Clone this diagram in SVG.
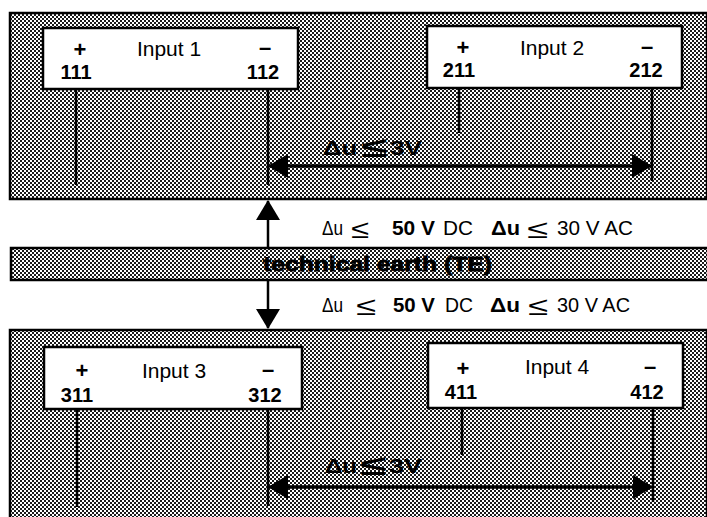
<svg xmlns="http://www.w3.org/2000/svg" width="707" height="517" viewBox="0 0 707 517">
<defs>
<pattern id="dither" width="4" height="4" patternUnits="userSpaceOnUse">
<rect width="4" height="4" fill="#ffffff"/>
<rect width="2" height="2" fill="#1a1a1a"/>
<rect x="2" y="2" width="2" height="2" fill="#1a1a1a"/>
</pattern>
<marker id="ah" viewBox="0 0 20 24" refX="19" refY="12" markerWidth="20" markerHeight="24" markerUnits="userSpaceOnUse" orient="auto">
<path d="M0,0 L20,12 L0,24 Z" fill="#000"/>
</marker>
</defs>
<style>
.panel{fill:url(#dither);stroke:#000;stroke-width:2.5}
.box{fill:#fff;stroke:#000;stroke-width:2.5}
.wire{stroke:#000;stroke-width:2.5;fill:none}
.dim{stroke:#000;stroke-width:3;fill:none}
.t{font-family:"Liberation Sans",Arial,sans-serif;fill:#000}
.name{font-size:21px}
.num{font-size:20px;font-weight:bold}
.sign{font-size:22px;font-weight:bold}
.lbl{font-size:20px;font-weight:bold}
.cond{font-family:"Liberation Sans Narrow","Liberation Sans",Arial,sans-serif;font-size:19.5px;fill:#000}
.b{font-weight:bold}
.le{font-size:26px}
.leb{font-size:28px;font-weight:bold}
</style>
<rect width="707" height="517" fill="#fff"/>

<g id="panel-top"><rect class="panel" x="10" y="13" width="697" height="186"/></g>
<g id="earth-bar">
<rect class="panel" x="11" y="248" width="697" height="32"/>
<text class="t" x="263" y="271" font-size="21" font-weight="900" stroke="#000" stroke-width="0.8" textLength="229" lengthAdjust="spacingAndGlyphs">technical earth (TE)</text>
</g>
<g id="panel-bottom"><rect class="panel" x="10" y="330" width="697" height="200"/></g>

<g id="input1">
<rect class="box" x="43" y="28" width="255" height="61"/>
<text class="t sign" x="80" y="57" text-anchor="middle">+</text>
<text class="t name" x="169" y="56" text-anchor="middle">Input 1</text>
<text class="t sign" x="265" y="55" text-anchor="middle">–</text>
<text class="t num" x="76" y="79" text-anchor="middle">111</text>
<text class="t num" x="263" y="79" text-anchor="middle">112</text>
</g>
<g id="input2">
<rect class="box" x="427" y="26" width="255" height="62"/>
<text class="t sign" x="463" y="55" text-anchor="middle">+</text>
<text class="t name" x="552" y="55" text-anchor="middle">Input 2</text>
<text class="t sign" x="647" y="54" text-anchor="middle">–</text>
<text class="t num" x="459" y="77" text-anchor="middle">211</text>
<text class="t num" x="646" y="77" text-anchor="middle">212</text>
</g>
<g id="input3">
<rect class="box" x="44" y="347" width="258" height="62"/>
<text class="t sign" x="82" y="378" text-anchor="middle">+</text>
<text class="t name" x="174" y="378" text-anchor="middle">Input 3</text>
<text class="t sign" x="268" y="377" text-anchor="middle">–</text>
<text class="t num" x="77" y="402" text-anchor="middle">311</text>
<text class="t num" x="265" y="402" text-anchor="middle">312</text>
</g>
<g id="input4">
<rect class="box" x="428" y="343" width="255" height="65"/>
<text class="t sign" x="463" y="376" text-anchor="middle">+</text>
<text class="t name" x="557" y="374" text-anchor="middle">Input 4</text>
<text class="t sign" x="650" y="374" text-anchor="middle">–</text>
<text class="t num" x="461" y="399" text-anchor="middle">411</text>
<text class="t num" x="647" y="399" text-anchor="middle">412</text>
</g>

<g id="connectors">
<line class="wire" x1="76" y1="89" x2="76" y2="185"/>
<line class="wire" x1="268" y1="89" x2="268" y2="185"/>
<line class="wire" x1="459" y1="88" x2="459" y2="133"/>
<line class="wire" x1="652" y1="88" x2="652" y2="181"/>
<line class="dim" x1="290" y1="166" x2="651" y2="166" marker-end="url(#ah)"/>
<line class="dim" x1="630" y1="166" x2="269" y2="166" marker-end="url(#ah)"/>

<line class="wire" x1="77" y1="409" x2="77" y2="507"/>
<line class="wire" x1="268" y1="409" x2="268" y2="506"/>
<line class="wire" x1="462" y1="408" x2="462" y2="455"/>
<line class="wire" x1="653" y1="408" x2="653" y2="502"/>
<line class="dim" x1="290" y1="487" x2="652" y2="487" marker-end="url(#ah)"/>
<line class="dim" x1="630" y1="487" x2="269" y2="487" marker-end="url(#ah)"/>

<line class="wire" x1="268" y1="248" x2="268" y2="201" marker-end="url(#ah)"/>
<line class="wire" x1="268" y1="280" x2="268" y2="328" marker-end="url(#ah)"/>
</g>

<g id="labels">
<g id="du3v-top">
<text class="t lbl" x="323" y="155" textLength="34" lengthAdjust="spacingAndGlyphs">Δu</text>
<text class="t leb" x="361" y="157" textLength="26" lengthAdjust="spacingAndGlyphs">≤</text>
<text class="t lbl" x="390" y="155" textLength="32" lengthAdjust="spacingAndGlyphs">3V</text>
</g>
<g id="du3v-bottom">
<text class="t lbl" x="325" y="473" textLength="32" lengthAdjust="spacingAndGlyphs">Δu</text>
<text class="t leb" x="360" y="475" textLength="26" lengthAdjust="spacingAndGlyphs">≤</text>
<text class="t lbl" x="389" y="473" textLength="33" lengthAdjust="spacingAndGlyphs">3V</text>
</g>
<g id="limits-top">
<text class="cond" x="322" y="235" textLength="21" lengthAdjust="spacingAndGlyphs">Δu</text>
<text class="cond le" x="351" y="238" textLength="18" lengthAdjust="spacingAndGlyphs">≤</text>
<text class="cond b" x="392" y="235" textLength="43" lengthAdjust="spacingAndGlyphs">50 V</text>
<text class="cond" x="443" y="235" textLength="30" lengthAdjust="spacingAndGlyphs">DC</text>
<text class="cond b" x="491" y="235" textLength="29" lengthAdjust="spacingAndGlyphs">Δu</text>
<text class="cond le" x="527" y="238" textLength="21" lengthAdjust="spacingAndGlyphs">≤</text>
<text class="cond" x="557" y="235" textLength="76" lengthAdjust="spacingAndGlyphs">30 V AC</text>
</g>
<g id="limits-bottom">
<text class="cond" x="322" y="312" textLength="21" lengthAdjust="spacingAndGlyphs">Δu</text>
<text class="cond le" x="356" y="315" textLength="20" lengthAdjust="spacingAndGlyphs">≤</text>
<text class="cond b" x="393" y="312" textLength="42" lengthAdjust="spacingAndGlyphs">50 V</text>
<text class="cond" x="445" y="312" textLength="28" lengthAdjust="spacingAndGlyphs">DC</text>
<text class="cond b" x="490" y="312" textLength="30" lengthAdjust="spacingAndGlyphs">Δu</text>
<text class="cond le" x="528" y="315" textLength="20" lengthAdjust="spacingAndGlyphs">≤</text>
<text class="cond" x="557" y="312" textLength="73" lengthAdjust="spacingAndGlyphs">30 V AC</text>
</g>
</g>
</svg>
